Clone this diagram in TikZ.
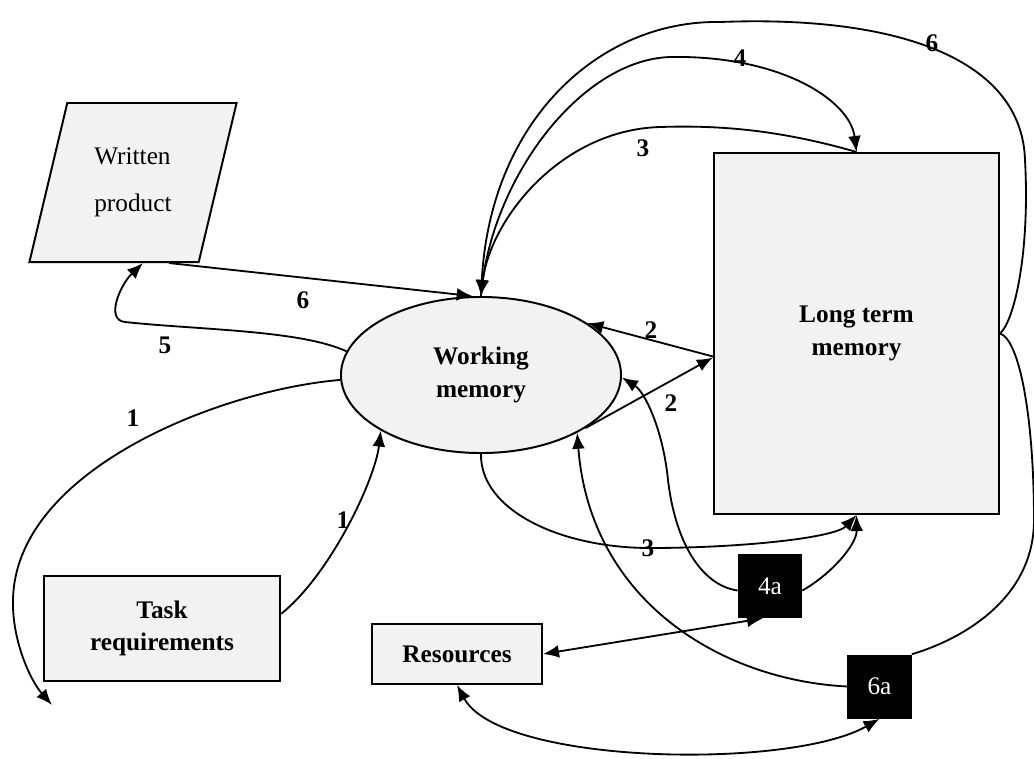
\documentclass[tikz,border=0pt]{standalone}
\usepackage{fontspec}
\setmainfont{Liberation Serif}
\usetikzlibrary{shapes.geometric,arrows.meta}
\definecolor{boxgray}{RGB}{242,242,242}
\tikzset{
  box/.style={draw, line width=1.4pt, fill=boxgray, align=center, inner sep=0pt, font=\fontsize{18}{23}\selectfont\bfseries},
  simple box/.style={box, rectangle},
  memory ellipse/.style={box, ellipse, minimum width=7cm, minimum height=3.9cm},
  product box/.style={box, trapezium, trapezium left angle=72, trapezium right angle=108, trapezium stretches=true, minimum width=5.2cm, minimum height=3.975cm, align=left, font=\fontsize{18}{33}\selectfont},
  black box/.style={fill=black, text=white, inner sep=0pt, minimum width=1.6cm, minimum height=1.6cm, font=\fontsize{18}{20}\selectfont},
  flow/.style={line width=1.3pt, >={Latex[length=4mm,width=3.2mm]}},
  lbl/.style={inner sep=0pt, font=\fontsize{18}{20}\selectfont\bfseries},
}

\begin{document}
\begin{tikzpicture}[x=0.025cm,y=-0.025cm]
\useasboundingbox (0,0) rectangle (1034,758);
% the nodes
\node [product box] (wp) at (133,182.5) {Written\\product};
\node [memory ellipse] (wm) at (481,375) {Working\\memory};
\node [simple box, minimum width=7.125cm, minimum height=9.025cm] (ltm) at (856.5,333.5) {Long term\\memory};
\node [simple box, minimum width=5.9cm, minimum height=2.625cm] (task) at (162,628.5) {Task\\requirements};
\node [simple box, minimum width=4.25cm, minimum height=1.5cm] (res) at (457,654) {Resources};
\node [black box] (fa) at (770,586) {4a};
\node [black box] (sa) at (879.5,686.5) {6a};
\coordinate (loose) at (52,705);

%drawings of vectors
\draw[flow,->] (task.7) .. controls (330,575) and (375,480) .. (wm.209);
\draw[flow,->] (wm.182) .. controls (220,390) and (15,470) .. (13,600)
  .. controls (12,640) and (30,680) .. (loose);
\draw[flow,->] (wm.170) .. controls (300,330) and (200,330) .. (125,322)
  .. controls (105,320) and (120,285) .. ([xshift=0.25cm]wp.south);
\draw[flow,->] ([xshift=0.9cm]wp.south) -- (wm.96);

\draw[flow,->] ([yshift=-0.575cm]ltm.west) -- (wm.26);
\draw[flow,->] (wm.-27) -- ([yshift=-0.6cm]ltm.west);

\draw[flow,->] (wm.north) .. controls (490,180) and (580,60) .. (670,57)
  .. controls (780,55) and (850,100) .. (ltm.north);
\draw[flow,->] (ltm.north) .. controls (780,130) and (720,125) .. (660,127)
  .. controls (560,130) and (490,220) .. (wm.north);
\draw[flow,->] (ltm.east) .. controls (1015,320) and (1030,250) .. (1025,160)
  .. controls (1022,60) and (900,15) .. (720,22)
  .. controls (600,20) and (490,120) .. (wm.north);
\draw[flow] (ltm.east) .. controls (1020,340) and (1034,420) .. (1034,520)
  .. controls (1034,600) and (960,640) .. (sa.north east);

\draw[flow,->] (wm.south) .. controls (480,510) and (560,548) .. (650,548)
  .. controls (740,548) and (835,538) .. (ltm.south);
\draw[flow,->] (fa.188) .. controls (700,585) and (675,540) .. (668,480)
  .. controls (663,430) and (645,392) .. (wm.-1);
\draw[flow,->] (fa.-8) .. controls (830,575) and (857,545) .. (ltm.south);
\draw[flow,->] (sa.west) .. controls (720,680) and (590,600) .. (wm.-31);

\draw[flow,<->] (res.east) -- ([xshift=-0.175cm]fa.south);
\draw[flow,<->] (res.south) .. controls (500,765) and (790,770) .. (sa.south);

% labels
\node [lbl] (n1a) at (343,520) {1};
\node [lbl] (n1b) at (133,418) {1};
\node [lbl] (n5) at (165,345) {5};
\node [lbl] (n6a) at (303,300) {6};
\node [lbl] (n2a) at (651,330) {2};
\node [lbl] (n2b) at (671,403) {2};
\node [lbl] (n3a) at (643,148) {3};
\node [lbl] (n4) at (740,58) {4};
\node [lbl] (n6b) at (932,43) {6};
\node [lbl] (n3b) at (648,548) {3};

\end{tikzpicture}
\end{document}
